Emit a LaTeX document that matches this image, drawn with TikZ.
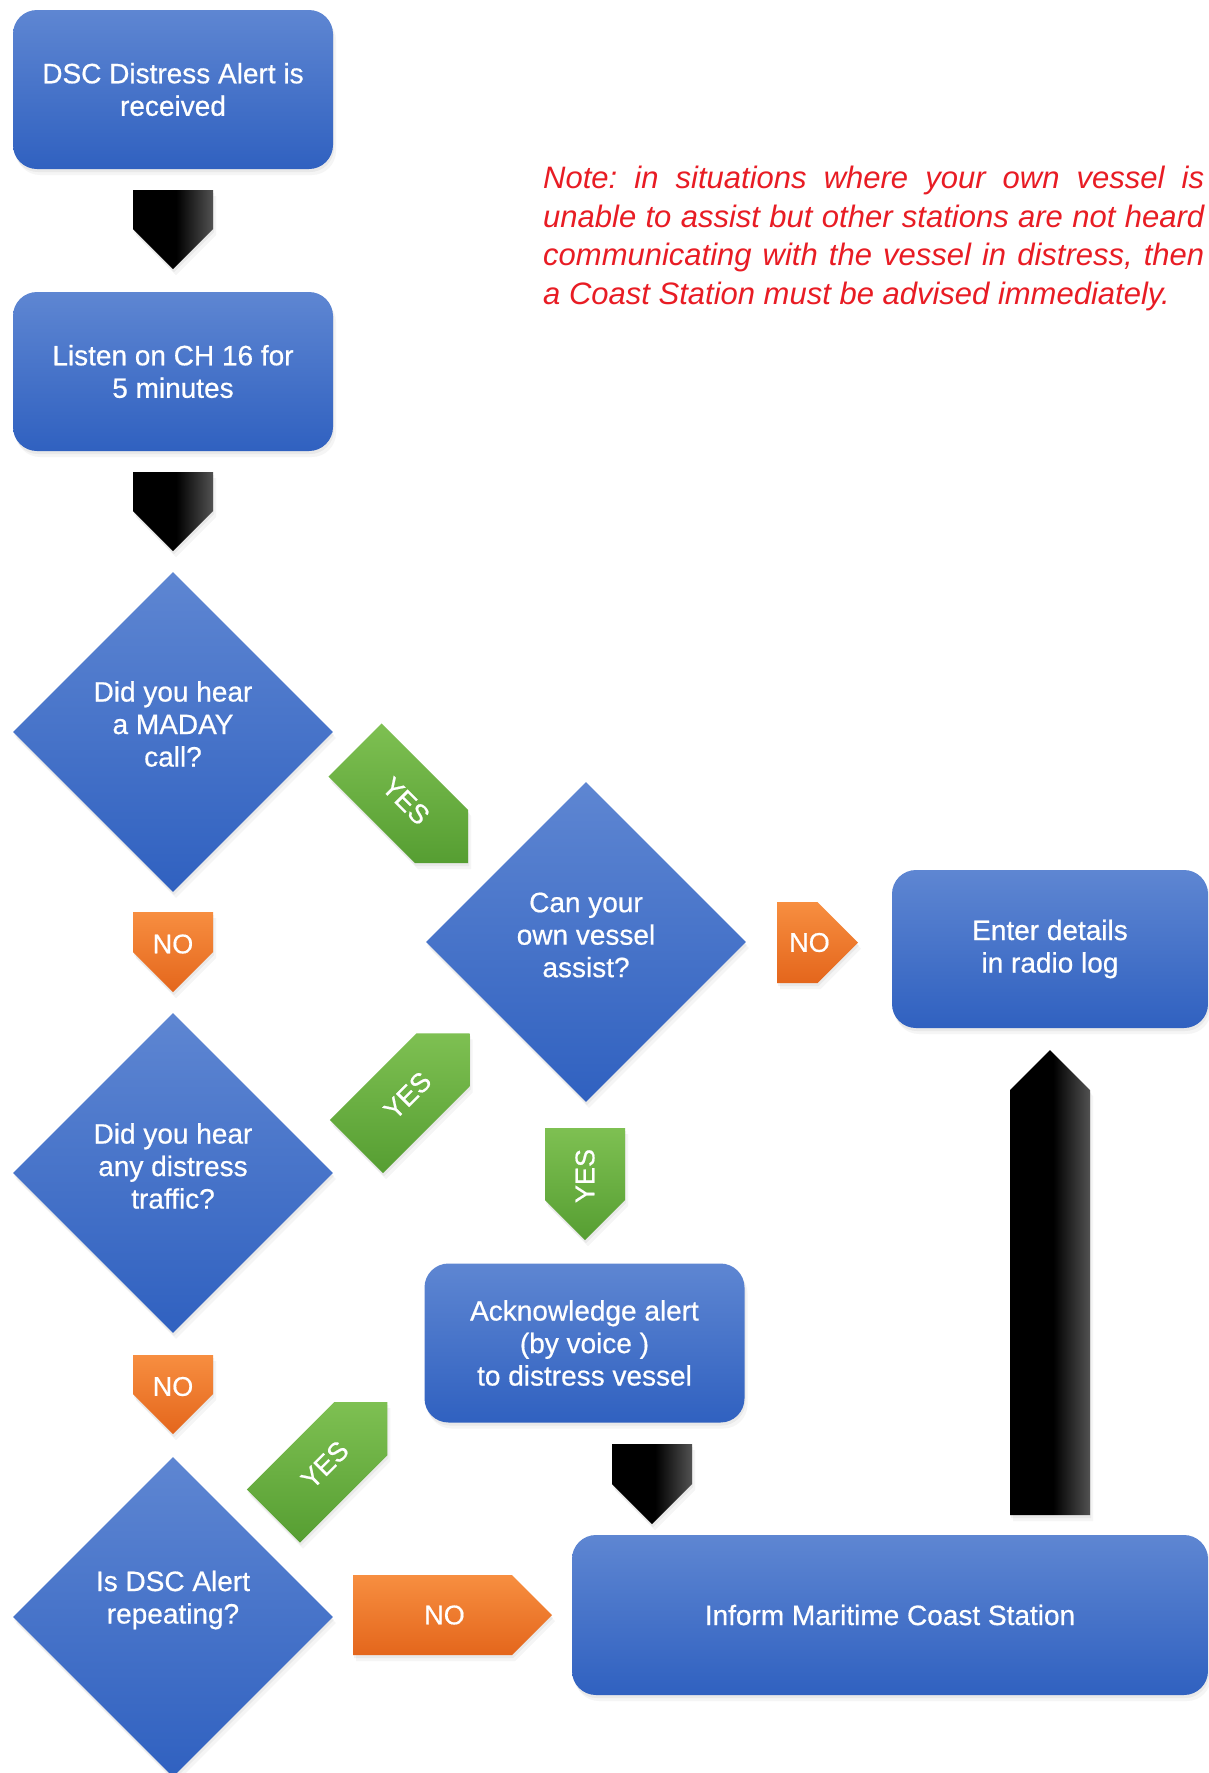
\documentclass[tikz,border=0pt]{standalone}
\usepackage{fontspec}
\setmainfont{Liberation Sans}
\newfontfamily\boxfont{Liberation Sans}[FakeBold=0.6]
\usetikzlibrary{shapes.geometric,calc,shadows}
\definecolor{bluetop}{RGB}{94,134,210}
\definecolor{bluebot}{RGB}{48,97,192}
\definecolor{greentop}{RGB}{126,192,82}
\definecolor{greenbot}{RGB}{86,158,50}
\definecolor{orangetop}{RGB}{247,142,64}
\definecolor{orangebot}{RGB}{228,102,28}
\definecolor{notered}{RGB}{232,28,36}
\definecolor{arrowgray}{RGB}{82,82,82}
\pgfdeclarehorizontalshading{blackgrad}{100bp}{color(0bp)=(black); color(25bp)=(black); color(52bp)=(black); color(75bp)=(arrowgray); color(100bp)=(arrowgray)}
\newcommand\blockarrow[6]{%
  \pgfmathsetmacro\bahw{#5/2}%
  \pgfmathsetmacro\babl{#4-#5/2}%
  \pgfmathsetmacro\balp{#4/2-8}%
  \coordinate (#1-base) at (#2);%
  \path[#6] ($(#1-base)+(#3+90:\bahw pt)$) -- ++(#3:\babl pt) -- ($(#1-base)+(#3:#4pt)$) -- ($(#1-base)+(#3-90:\bahw pt)+(#3:\babl pt)$) -- ($(#1-base)+(#3-90:\bahw pt)$) -- cycle;%
  \coordinate (#1) at ($(#1-base)+(#3:\balp pt)$);%
}
\tikzset{
  softshadow/.style={drop shadow={opacity=.10,shadow xshift=1pt,shadow yshift=-3pt},
                     drop shadow={opacity=.08,shadow xshift=3pt,shadow yshift=-6pt}},
  box/.style={rectangle, rounded corners=24pt, minimum width=320pt, minimum height=159pt,
    top color=bluetop, bottom color=bluebot, text=white, align=center,
    font=\boxfont\fontsize{28}{32.5}\selectfont, inner sep=0pt, softshadow},
  dia/.style={diamond, minimum width=320pt, minimum height=320pt, inner sep=0pt,
    top color=bluetop, bottom color=bluebot, softshadow},
  diatext/.style={text=white, align=center, font=\boxfont\fontsize{28}{32.5}\selectfont, inner sep=0pt},
  lbl/.style={text=white, font=\boxfont\fontsize{27}{30}\selectfont, inner sep=0pt},
  greenfill/.style={top color=greentop, bottom color=greenbot, softshadow},
  orangefill/.style={top color=orangetop, bottom color=orangebot, softshadow},
  blackfill/.style={shade, shading=blackgrad, softshadow},
}
\begin{document}
\begin{tikzpicture}[x=1pt, y=-1pt]
\useasboundingbox[fill=white] (0,0) rectangle (1209,1773);

% process boxes
\node[box] (b1) at (173,89.5) {DSC Distress Alert is\\received};
\node[box] (b2) at (173,371.5) {Listen on CH 16 for\\5 minutes};
\node[box, minimum width=316pt, minimum height=158pt] (b3) at (1050,949) {Enter details\\in radio log};
\node[box] (b4) at (584.5,1343) {Acknowledge alert\\(by voice )\\to distress vessel};
\node[box, minimum width=636pt, minimum height=160pt] (b5) at (890,1615) {Inform Maritime Coast Station};

% decisions
\node[dia] (d1) at (173,732) {};
\node[diatext] (d1t) at ($(d1)+(0,-8)$) {Did you hear\\a MADAY\\call?};
\node[dia] (d2) at (586,942) {};
\node[diatext] (d2t) at ($(d2)+(0,-7)$) {Can your\\own vessel\\assist?};
\node[dia] (d3) at (173,1173) {};
\node[diatext] (d3t) at ($(d3)+(0,-7)$) {Did you hear\\any distress\\traffic?};
\node[dia] (d4) at (173,1617) {};
\node[diatext] (d4t) at ($(d4)+(0,-17)$) {Is DSC Alert\\repeating?};

% black connectors
\blockarrow{a1}{173,190}{-90}{79}{80}{blackfill}
\blockarrow{a2}{173,472}{-90}{79}{80}{blackfill}
\blockarrow{a3}{652,1444}{-90}{80}{80}{blackfill}
\blockarrow{a4}{1050,1515}{90}{465}{80}{blackfill}

% NO connectors
\blockarrow{no1}{173,912}{-90}{80}{80}{orangefill}
\node[lbl] (no1l) at (no1) {NO};
\blockarrow{no2}{173,1355}{-90}{79}{80}{orangefill}
\node[lbl] (no2l) at (no2) {NO};
\blockarrow{nor}{777,942.5}{0}{81}{81}{orangefill}
\node[lbl] (norl) at (nor) {NO};
\blockarrow{no3}{353,1615}{0}{199}{80}{orangefill}
\node[lbl] (no3l) at (no3) {NO};

% YES connectors
\blockarrow{yes1}{355,750}{-45}{160}{75}{greenfill}
\node[lbl, rotate=-45] (yes1l) at (yes1) {YES};
\blockarrow{yes2}{356.5,1146.5}{45}{160}{75}{greenfill}
\node[lbl, rotate=45] (yes2l) at (yes2) {YES};
\blockarrow{yes3}{585,1128}{-90}{112}{80}{greenfill}
\node[lbl, rotate=90] (yes3l) at (yes3) {YES};
\blockarrow{yes4}{273.5,1516}{45}{161}{75}{greenfill}
\node[lbl, rotate=45] (yes4l) at (yes4) {YES};

% note
\node[anchor=north west, inner sep=0pt, text width=661pt, text=notered, align=justify,
  font=\fontsize{31}{38.5}\selectfont\itshape] (note) at (543,166)
  {\frenchspacing\tolerance=10000 Note: in situations where your own vessel is\linebreak
   unable to assist but other stations are not heard\linebreak
   communicating with the vessel in distress, then\linebreak
   a Coast Station must be advised immediately.};
\end{tikzpicture}
\end{document}
